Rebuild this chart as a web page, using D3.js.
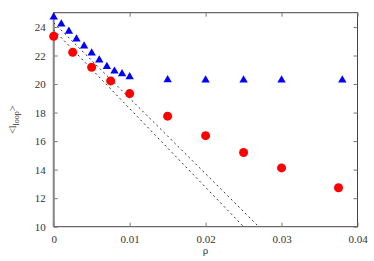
<!DOCTYPE html>
<html>
<head>
<meta charset="utf-8">
<script src="https://cdn.jsdelivr.net/npm/d3@7"></script>
<style>
  body { margin: 0; background: #fff; }
  text { font-family: 'Liberation Serif', 'DejaVu Serif', serif; fill: #333; }
</style>
</head>
<body>
<svg id="chart" width="374" height="261"></svg>
<script>
const rhoTri = [0, 0.001, 0.002, 0.003, 0.004, 0.005, 0.006, 0.007, 0.008, 0.009, 0.01, 0.015, 0.02, 0.025, 0.03, 0.038];
const loopTri = [24.7, 24.2, 23.7, 23.15, 22.66, 22.17, 21.68, 21.23, 20.9, 20.72, 20.5, 20.3, 20.28, 20.28, 20.28, 20.28];
const rhoCirc = [0, 0.0025, 0.005, 0.0075, 0.01, 0.015, 0.02, 0.025, 0.03, 0.0375];
const loopCirc = [23.35, 22.22, 21.18, 20.22, 19.33, 17.75, 16.38, 15.2, 14.12, 12.73];
const fitLines = [
  [[0, 23.8], [0.025, 10]],
  [[0, 24.3], [0.027, 10]]
];
const xTicks = [0, 0.01, 0.02, 0.03, 0.04];
const yTicks = [10, 12, 14, 16, 18, 20, 22, 24];

const svg = d3.select('#chart');
const plotL = 53.7, plotR = 357.5, plotT = 12.7, plotB = 226.7;

const x = d3.scaleLinear().domain([0, 0.04]).range([plotL, plotR]);
const y = d3.scaleLinear().domain([10, 25]).range([plotB, plotT]);

const tickFmt = (d) => d === 0 ? '0' : d3.format('.2f')(d);

// frame
svg.append('rect')
  .attr('x', plotL).attr('y', plotT)
  .attr('width', plotR - plotL).attr('height', plotB - plotT)
  .attr('fill', 'none').attr('stroke', '#444').attr('stroke-width', 1);

// axes with inward ticks
const gx = svg.append('g').attr('transform', `translate(0,${plotB})`)
  .call(d3.axisBottom(x).tickValues(xTicks).tickSize(-4).tickPadding(9).tickFormat(tickFmt));
const gxTop = svg.append('g').attr('transform', `translate(0,${plotT})`)
  .call(d3.axisTop(x).tickValues(xTicks).tickSize(-4).tickFormat(''));
const gy = svg.append('g').attr('transform', `translate(${plotL},0)`)
  .call(d3.axisLeft(y).tickValues(yTicks).tickSize(-4).tickPadding(8));
const gyRight = svg.append('g').attr('transform', `translate(${plotR},0)`)
  .call(d3.axisRight(y).tickValues(yTicks).tickSize(-4).tickFormat(''));

[gx, gxTop, gy, gyRight].forEach((g) => {
  g.select('.domain').remove();
  g.selectAll('.tick line').attr('stroke', '#777');
  g.selectAll('text').style('font-family', "'Liberation Serif', serif")
    .style('font-size', '11px').attr('fill', '#333');
});

// thick grey left axis
svg.append('line')
  .attr('x1', plotL).attr('x2', plotL).attr('y1', plotT).attr('y2', plotB)
  .attr('stroke', '#888').attr('stroke-width', 2);

// clip for fit lines
svg.append('clipPath').attr('id', 'clip')
  .append('rect').attr('x', plotL).attr('y', plotT)
  .attr('width', plotR - plotL).attr('height', plotB - plotT);

const line = d3.line().x((d) => x(d[0])).y((d) => y(d[1]));
svg.append('g').attr('clip-path', 'url(#clip)')
  .selectAll('path').data(fitLines).join('path')
  .attr('d', line)
  .attr('fill', 'none').attr('stroke', '#333')
  .attr('stroke-width', 1).attr('stroke-dasharray', '2,3');

// triangles
const tri = d3.symbol().type(d3.symbolTriangle).size(30);
svg.append('g').selectAll('path')
  .data(rhoTri.map((r, i) => [r, loopTri[i]]))
  .join('path')
  .attr('d', tri)
  .attr('transform', (d) => `translate(${x(d[0])},${y(d[1])})`)
  .attr('fill', '#0000ff');

// circles
svg.append('g').selectAll('circle')
  .data(rhoCirc.map((r, i) => [r, loopCirc[i]]))
  .join('circle')
  .attr('cx', (d) => x(d[0])).attr('cy', (d) => y(d[1]))
  .attr('r', 4.5)
  .attr('fill', '#ff0000');

// axis labels
svg.append('text')
  .attr('x', (plotL + plotR) / 2).attr('y', 254)
  .attr('text-anchor', 'middle')
  .style('font-size', '11px')
  .text('ρ');

const yl = svg.append('text')
  .attr('transform', `translate(16,${(plotT + plotB) / 2}) rotate(-90)`)
  .attr('text-anchor', 'middle')
  .style('font-size', '10px');
yl.append('tspan').text('<l');
yl.append('tspan').attr('dy', 3).style('font-size', '8px').text('loop');
yl.append('tspan').attr('dy', -3).text('>');
</script>
</body>
</html>
